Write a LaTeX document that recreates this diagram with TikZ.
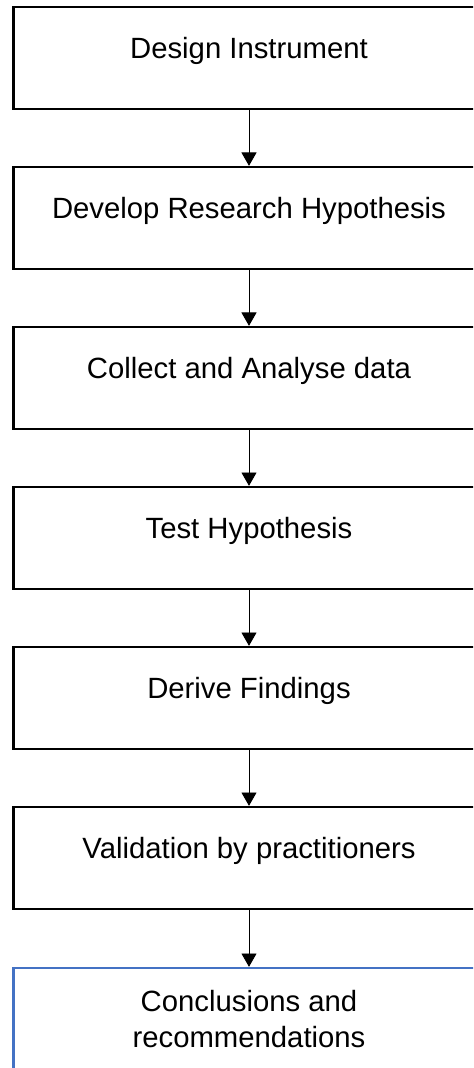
\documentclass[tikz,border=0pt]{standalone}
\usepackage{fontspec}
\setmainfont{Liberation Sans}
\usetikzlibrary{arrows.meta}
\definecolor{boxblue}{RGB}{68,114,196}

\begin{document}
\begin{tikzpicture}
[-,thick,%
  every node/.style={shape=rectangle,draw,line width=2pt,inner sep=0pt,%
    minimum width=14.13cm,font=\fontsize{25}{30.5}\selectfont},%
  stepbox/.style={text height=1.53cm,text depth=1.53cm},%
  lastbox/.style={draw=boxblue,minimum height=3.06cm,align=center}]
\useasboundingbox (0,0) rectangle (14.19,-32.04);
\clip (0,0) rectangle (14.19,-32.04);
\node[stepbox] (design) at (7.47,-1.74) {Design Instrument};
\node[stepbox] (develop) at (7.47,-6.54) {Develop Research Hypothesis};
\node[stepbox] (collect) at (7.47,-11.34) {Collect and Analyse data};
\node[stepbox] (test) at (7.47,-16.14) {Test Hypothesis};
\node[stepbox] (derive) at (7.47,-20.94) {Derive Findings};
\node[stepbox] (validate) at (7.47,-25.74) {Validation by practitioners};
%%
\node[lastbox] (conclude) at (7.47,-30.57) {Conclusions and\\recommendations};
%%
\path
\foreach \startNode/\endNode in {design/develop, develop/collect, collect/test,
  test/derive, derive/validate, validate/conclude}
{
  (\startNode) edge[-{Triangle[width=0.45cm,length=0.4cm]},line width=0.8pt] (\endNode)
};
\end{tikzpicture}
\end{document}
